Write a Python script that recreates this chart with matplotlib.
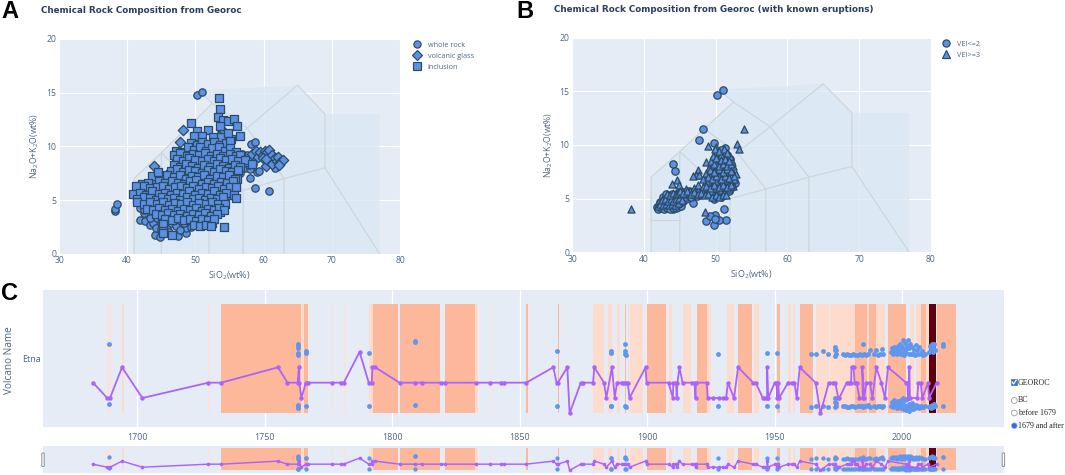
import matplotlib
matplotlib.use("Agg")
import matplotlib.pyplot as plt
from matplotlib.lines import Line2D
from matplotlib.patches import FancyBboxPatch, Rectangle, Circle

W, H = 1065, 475
plt.rcParams['font.family'] = ['Open Sans', 'DejaVu Sans']
plt.rcParams['mathtext.default'] = 'regular'

# ---------- TAS diagram ----------
tas_outline_x = [41, 41, 45, 48.4, 52.5, 51, 65, 69, 77, 77, 41]
tas_outline_y = [0, 7, 9.4, 11.5, 14, 15.2, 15.7, 13, 13, 0, 0]
tas_lines = [
    ([41, 41, 45, 48.4, 52.5, 57.6, 63, 63], [0, 7, 9.4, 11.5, 14, 11.7, 7, 0]),
    ([50.6, 52.5], [15.1, 14]),
    ([41, 45], [3, 3]),
    ([45, 45, 52, 52], [0, 9.4, 5, 0]),
    ([48.4, 53, 57, 57], [11.5, 9.3, 5.9, 0]),
    ([53, 57.6, 65, 69, 69, 77], [9.3, 11.7, 15.7, 13, 8, 0]),
    ([52, 57, 63, 69], [5, 5.9, 7, 8]),
]

# ---------- Panel A ----------
incl_x = [53.5, 53.6, 53.3, 54.1, 54.8, 55.7, 56.1, 53.6, 49.4, 50.2, 51.8, 56.5, 55.2, 51.0, 49.8, 52.6, 53.7, 54.8,
          49.3, 50.2, 51.0, 51.9, 52.8, 53.6, 54.5, 55.0,
          47.2, 48.0, 48.9, 49.8, 50.7, 51.6, 52.5, 53.4, 54.3, 55.1, 56.0,
          46.9, 47.8, 48.7, 49.6, 50.5, 51.4, 52.3, 53.2, 54.1, 55.0, 55.9, 56.6,
          47.3, 48.2, 49.1, 50.0, 50.9, 51.8, 52.7, 53.6, 54.5, 55.4, 56.3, 57.3,
          46.8, 47.7, 48.6, 49.5, 50.4, 51.3, 52.2, 53.1, 54.0, 54.9, 55.8, 56.6, 58.3,
          46.4, 47.3, 48.2, 49.1, 50.0, 50.9, 51.8, 52.7, 53.6, 54.5, 55.4, 56.2,
          43.6, 44.5, 45.9, 46.8, 47.7, 48.6, 49.5, 50.4, 51.3, 52.2, 53.1, 54.0, 54.9, 55.8,
          42.2, 43.1, 44.7, 45.6, 46.5, 47.4, 48.3, 49.2, 50.1, 51.0, 51.9, 52.8, 53.7, 54.6, 55.5,
          41.3, 42.4, 43.4, 44.3, 45.2, 46.1, 47.0, 47.9, 48.8, 49.7, 50.6, 51.5, 52.4, 53.3, 54.2, 55.0, 55.9,
          40.9, 41.9, 42.8, 43.7, 44.6, 45.5, 46.4, 47.3, 48.2, 49.1, 50.0, 50.9, 51.8, 52.7, 53.6, 54.5, 55.6,
          41.5, 42.4, 43.3, 44.2, 45.1, 46.0, 46.9, 47.8, 48.7, 49.6, 50.5, 51.4, 52.3, 53.2, 54.1, 56.0,
          41.4, 42.5, 43.4, 44.3, 45.2, 46.1, 47.0, 47.9, 48.8, 49.7, 50.6, 51.5, 52.4, 53.3, 54.3,
          42.9, 43.8, 44.7, 45.6, 46.5, 47.4, 48.3, 49.2, 50.1, 51.0, 51.9, 52.8, 53.5, 54.2,
          44.2, 45.1, 46.0, 46.9, 47.8, 48.7, 49.6, 50.5, 51.4, 52.3, 53.1,
          45.6, 46.5, 47.4, 48.3, 49.2, 50.1, 51.0, 51.9, 52.7,
          45.2, 49.8, 50.7, 51.6, 52.3, 54.2,
          45.2, 45.3, 46.5]
incl_y = [14.5, 13.45, 12.7, 12.5, 12.4, 12.55, 11.9, 11.9, 12.2, 11.4, 11.5, 11.0, 10.65, 11.0, 11.0, 10.9, 10.9, 11.2,
          10.3, 10.1, 10.4, 10.2, 10.4, 10.1, 10.3, 10.5,
          9.6, 9.5, 9.9, 9.7, 9.9, 9.6, 9.8, 9.9, 9.6, 9.8, 9.5,
          9.2, 9.4, 9.1, 9.3, 9.2, 9.4, 9.1, 9.3, 9.1, 9.3, 9.1, 9.2,
          8.8, 8.6, 8.9, 8.7, 8.6, 8.8, 8.6, 8.9, 8.7, 8.8, 8.6, 8.7,
          8.3, 8.1, 8.4, 8.2, 8.0, 8.3, 8.1, 8.4, 8.2, 8.0, 8.3, 8.1, 8.4,
          7.7, 7.9, 7.6, 7.8, 7.7, 7.5, 7.8, 7.6, 7.9, 7.7, 7.6, 7.8,
          7.2, 7.6, 7.3, 7.1, 7.3, 7.0, 7.2, 7.1, 7.3, 7.0, 7.2, 7.1, 7.3, 7.0,
          6.5, 6.6, 6.8, 6.6, 6.8, 6.6, 6.5, 6.8, 6.9, 6.5, 6.7, 6.5, 6.7, 6.6, 6.8,
          6.3, 6.3, 6.1, 6.2, 6.3, 6.0, 6.2, 6.3, 6.1, 6.3, 6.0, 6.2, 6.1, 6.3, 6.0, 6.2, 6.2,
          5.6, 5.7, 5.5, 5.8, 5.6, 5.7, 5.5, 5.7, 5.6, 5.8, 5.5, 5.7, 5.6, 5.8, 5.5, 5.7, 5.5,
          5.1, 5.3, 5.2, 5.0, 5.3, 5.1, 5.2, 5.0, 5.3, 5.1, 5.2, 5.0, 5.2, 5.1, 5.3, 5.15,
          4.85, 4.6, 4.8, 4.6, 4.8, 4.5, 4.7, 4.6, 4.8, 4.5, 4.7, 4.6, 4.8, 4.6, 4.6,
          4.2, 4.1, 4.3, 4.1, 4.2, 4.0, 4.2, 4.1, 4.3, 4.0, 4.2, 4.1, 4.3, 4.1,
          3.7, 3.6, 3.8, 3.6, 3.7, 3.5, 3.7, 3.6, 3.8, 3.5, 3.7,
          3.2, 3.1, 3.3, 3.1, 3.2, 3.0, 3.2, 3.1, 3.2,
          2.8, 2.7, 2.6, 2.7, 2.6, 2.5,
          2.1, 1.95, 1.75]
incl_mid_x = [47.6, 48.5, 49.4, 50.3, 51.2, 52.1, 53.0, 53.9, 54.8, 55.6,
              47.7, 48.6, 49.5, 50.4, 51.3, 52.2, 53.1, 54.0, 54.9, 55.8, 56.7,
              47.2, 48.1, 49.0, 49.9, 50.8, 51.7, 52.6, 53.5, 54.4, 55.3, 56.2, 57.2,
              47.0, 47.9, 48.8, 49.7, 50.6, 51.5, 52.4, 53.3, 54.2, 55.1, 56.0,
              46.3, 47.2, 48.1, 49.0, 49.9, 50.8, 51.7, 52.6, 53.5, 54.4, 55.3,
              45.2, 46.2, 47.1, 48.0, 48.9, 49.8, 50.7, 51.6, 52.5, 53.4, 54.3, 55.2, 56.1,
              44.2, 45.1, 46.0, 46.9, 47.8, 48.7, 49.6, 50.5, 51.4, 52.3, 53.2, 54.1, 55.0,
              41.9, 42.8, 43.8, 44.7, 45.6, 46.5, 47.4, 48.3, 49.2, 50.1, 51.0, 51.9, 52.8, 53.7, 54.6, 55.5,
              42.0, 42.9, 43.8, 44.7, 45.6, 46.5, 47.4, 48.3, 49.2, 50.1, 51.0, 51.9, 52.8, 53.7, 54.6,
              42.9, 43.8, 44.7, 45.6, 46.5, 47.4, 48.3, 49.2, 50.1, 51.0, 51.9, 52.8, 53.7,
              43.3, 44.2, 45.1, 46.0, 46.9, 47.8, 48.7, 49.6, 50.5, 51.4, 52.3, 53.2,
              44.7, 45.6, 46.5, 47.4, 48.3, 49.2, 50.1, 51.0, 51.9, 52.7, 53.6,
              45.1, 46.0, 46.9, 47.8, 48.7, 49.6, 50.5, 51.4, 52.3,
              50.0, 50.9, 51.7, 52.5]
incl_mid_y = [9.5, 9.4, 9.55, 9.45, 9.5, 9.4, 9.55, 9.45, 9.5, 9.4,
              8.95, 9.05, 8.9, 9.0, 9.05, 8.9, 9.0, 8.95, 9.05, 8.9, 9.0,
              8.5, 8.45, 8.55, 8.4, 8.5, 8.55, 8.4, 8.5, 8.45, 8.55, 8.4, 8.5,
              8.0, 7.9, 8.05, 7.95, 7.9, 8.05, 7.95, 8.0, 7.9, 8.05, 7.95,
              7.45, 7.4, 7.5, 7.4, 7.45, 7.5, 7.4, 7.45, 7.5, 7.4, 7.45,
              7.0, 6.95, 6.9, 7.0, 6.95, 6.9, 7.0, 6.95, 6.9, 7.0, 6.95, 6.9, 7.0,
              6.5, 6.45, 6.4, 6.5, 6.4, 6.45, 6.5, 6.4, 6.45, 6.5, 6.4, 6.45, 6.5,
              6.0, 5.95, 5.9, 6.0, 5.95, 5.9, 6.0, 5.95, 5.9, 6.0, 5.95, 5.9, 6.0, 5.95, 5.9, 6.0,
              5.4, 5.35, 5.45, 5.4, 5.35, 5.45, 5.4, 5.35, 5.45, 5.4, 5.35, 5.45, 5.4, 5.35, 5.45,
              4.9, 4.95, 4.9, 4.95, 4.9, 4.85, 4.95, 4.9, 4.85, 4.95, 4.9, 4.85, 4.95,
              4.45, 4.4, 4.45, 4.4, 4.45, 4.4, 4.45, 4.4, 4.45, 4.4, 4.45, 4.4,
              3.9, 3.95, 3.9, 3.95, 3.9, 3.95, 3.9, 3.95, 3.9, 3.95, 3.9,
              3.4, 3.45, 3.4, 3.45, 3.4, 3.45, 3.4, 3.45, 3.4,
              2.95, 2.9, 2.95, 2.9]
rock_x = [38.2, 38.2, 38.5, 50.2, 51.0, 58.1, 58.8, 58.8, 60.8, 58.0, 59.0, 58.4, 61.6, 41.9, 42.6, 43.3, 43.8, 44.4, 44.1, 44.8,
          45.3, 45.8, 46.4, 47.1, 47.4, 47.9, 48.6, 48.6, 49.1, 44.5, 42.4, 41.9, 42.4, 45.0, 43.4, 44.9, 55.7, 56.6, 56.3, 56.8,
          57.2, 58.0, 58.3, 57.6, 56.0, 56.9, 57.8, 59.3, 46.9, 47.8, 48.4, 49.3, 44.2, 46.2, 45.0]
rock_y = [4.0, 4.15, 4.65, 14.75, 15.1, 10.2, 10.45, 6.1, 5.8, 7.05, 7.6, 8.4, 7.95, 3.15, 3.0, 2.7, 2.9, 3.3, 1.75, 1.6,
          1.9, 2.4, 2.9, 2.6, 1.65, 3.0, 1.9, 2.4, 3.1, 3.9, 3.8, 4.3, 4.1, 4.3, 3.3, 2.8, 8.0, 7.5, 8.9, 9.3,
          8.0, 7.9, 8.9, 9.2, 7.0, 8.6, 8.3, 7.7, 3.1, 2.2, 2.9, 2.5, 2.4, 2.0, 2.3]
glass_x = [44.0, 48.2, 47.7, 53.9, 53.4, 58.3, 58.9, 59.2, 59.4, 59.9, 60.2, 60.5, 60.5, 60.8, 60.3, 60.9, 61.2, 61.3, 61.6, 61.9, 62.1, 62.4, 62.9, 62.2, 59.9, 60.4]
glass_y = [8.2, 11.5, 10.45, 11.5, 11.0, 9.3, 9.6, 9.0, 9.45, 9.2, 9.6, 9.0, 9.45, 9.65, 8.2, 8.5, 9.2, 8.4, 8.9, 8.6, 9.0, 8.5, 8.75, 8.3, 8.9, 8.8]

# ---------- Panel B ----------
low_x = [50.2, 51.0, 48.2, 47.7, 44.0, 44.3, 46.9, 44.1, 51.2, 51.4, 49.7, 48.7, 49.9, 49.2, 50.4, 49.9, 49.8, 51.3, 49.8, 52.7,
         41.8, 42.1, 42.5, 42.9, 43.3, 43.7, 44.1, 44.5, 44.9, 42.2, 42.6, 43.0, 43.4, 43.8, 44.2, 44.6, 45.0, 45.4, 42.7, 43.1, 43.5,
         43.9, 44.3, 44.7, 45.1, 45.5, 45.9, 46.3, 46.7, 47.2, 47.7, 48.3, 48.9, 49.5, 50.1, 50.7, 51.3, 51.9, 52.3,
         48.6, 49.2, 49.8, 50.4, 51.0, 51.6, 52.2, 48.9, 49.5, 50.1, 50.7, 51.3, 51.9, 52.4, 49.4, 50.0, 50.6, 51.2, 51.8, 52.2,
         49.7, 50.3, 50.9, 51.5, 52.0, 50.2, 50.8, 51.4,
         42.0, 42.4, 42.8, 43.2, 43.6, 44.0, 44.4, 44.8, 45.2, 42.3, 42.7, 43.1, 43.5, 43.9, 44.3, 44.7, 45.1, 45.5, 45.9,
         43.0, 43.4, 43.8, 44.2, 44.6, 45.0, 45.4, 45.8, 46.2, 46.6, 47.0, 47.4, 47.8]
low_y = [14.7, 15.1, 11.5, 10.45, 8.2, 7.6, 4.6, 4.05, 4.05, 3.05, 2.55, 2.95, 3.5, 3.4, 3.0, 3.1, 10.2, 9.7, 5.0, 6.45,
         4.2, 4.4, 4.25, 4.3, 4.25, 4.35, 4.3, 4.4, 4.5, 4.7, 4.8, 4.65, 4.8, 4.7, 4.85, 4.7, 4.9, 5.0, 5.2, 5.4, 5.1,
         5.4, 5.2, 5.5, 5.3, 5.6, 5.4, 5.7, 5.5, 5.8, 5.6, 5.4, 5.7, 5.3, 5.6, 5.2, 5.5, 5.7, 6.1,
         6.3, 6.6, 6.3, 6.7, 6.4, 6.7, 6.5, 7.1, 7.4, 7.0, 7.3, 7.0, 7.3, 7.1, 7.9, 8.2, 7.8, 8.1, 7.9, 8.2,
         8.7, 9.0, 8.6, 8.9, 8.7, 9.3, 9.5, 9.2,
         4.05, 4.1, 4.0, 4.15, 4.05, 4.1, 4.15, 4.2, 4.35, 4.55, 4.6, 4.5, 4.6, 4.55, 4.6, 4.5, 4.65, 4.75, 5.0,
         5.0, 5.0, 5.1, 5.05, 5.1, 5.05, 5.2, 5.15, 5.3, 5.2, 5.35, 5.25, 5.3]
high_x = [38.2, 54.0, 53.0, 53.3, 49.0, 50.1, 47.5, 47.2, 46.8, 47.7, 44.6, 43.9, 44.9, 48.5,
          41.9, 42.3, 42.7, 43.1, 43.5, 43.9, 44.3, 44.7, 42.5, 42.9, 43.3, 43.7, 44.1, 44.5, 44.9, 45.3, 43.2, 43.6, 44.0, 44.4, 44.8, 45.2, 45.6, 46.0,
          45.8, 46.4, 47.0, 47.6, 48.2, 48.8, 49.4, 50.0, 50.6, 51.2, 51.8, 47.6, 48.3, 48.9, 49.5, 50.1, 50.7, 51.3, 51.9, 52.4,
          48.3, 48.9, 49.5, 50.1, 50.7, 51.3, 51.9, 52.5, 48.6, 49.2, 49.8, 50.4, 51.0, 51.6, 52.2, 52.8, 49.1, 49.7, 50.3, 50.9, 51.5, 52.1, 52.4,
          48.7, 49.4, 50.0, 50.6, 51.2, 51.8, 52.3, 49.6, 50.2, 50.8, 51.4, 52.0, 49.9, 50.5, 51.1, 51.6,
          48.6, 49.2, 49.8, 50.4, 51.0, 51.6, 52.2, 48.9, 49.5, 50.1, 50.7, 51.3, 51.9, 52.5, 49.2, 49.8, 50.4, 51.0, 51.6, 52.2,
          49.8, 50.4, 51.0, 51.6, 52.2, 50.1, 50.7, 51.3, 51.9,
          45.0, 45.5, 46.0, 46.5, 47.0, 47.5, 48.0, 48.5, 49.0, 49.5, 50.0, 50.5, 51.0, 51.5]
high_y = [4.05, 11.5, 10.1, 9.6, 9.9, 9.8, 7.7, 7.2, 7.1, 7.2, 6.7, 6.4, 6.3, 3.8,
          4.3, 4.5, 4.4, 4.5, 4.4, 4.5, 4.4, 4.6, 4.9, 5.0, 4.8, 5.0, 4.8, 5.0, 5.1, 4.9, 5.4, 5.3, 5.5, 5.4, 5.5, 5.4, 5.6, 5.5,
          5.9, 5.7, 6.0, 5.8, 5.6, 5.9, 5.7, 5.5, 5.8, 5.6, 5.9, 6.3, 6.1, 6.4, 6.2, 6.0, 6.3, 6.1, 6.3, 6.2,
          6.8, 6.6, 6.9, 6.6, 6.9, 6.7, 6.9, 6.8, 7.4, 7.2, 7.5, 7.2, 7.5, 7.3, 7.6, 7.3, 7.9, 7.7, 8.0, 7.7, 8.0, 7.8, 8.0,
          8.4, 8.5, 8.3, 8.6, 8.3, 8.5, 8.4, 9.0, 8.8, 9.1, 8.8, 9.0, 9.6, 9.4, 9.6, 9.3,
          6.2, 6.0, 6.3, 6.1, 6.3, 6.1, 6.3, 7.0, 6.8, 7.1, 6.8, 7.1, 6.9, 7.1, 7.7, 7.5, 7.8, 7.5, 7.8, 7.6,
          8.2, 8.0, 8.2, 8.0, 8.2, 8.8, 8.6, 8.7, 8.5,
          5.7, 5.5, 5.7, 5.4, 5.6, 5.4, 5.5, 5.3, 5.4, 5.2, 5.3, 5.2, 5.3, 5.3]

# ---------- Panel C ----------
band_start = [1688.2, 1693.9, 1727.6, 1733, 1755.3, 1764.2, 1765.4, 1776.2, 1781, 1790.8, 1792.4, 1802.9, 1820.9, 1832.4, 1838.3,
              1852.3, 1865, 1878.8, 1884.5, 1888.3, 1891.2, 1892.4, 1893.3, 1900, 1908.6, 1914, 1919.4, 1923.4, 1931.3, 1935.7,
              1942, 1951, 1955.3, 1957.4, 1960, 1966.3, 1971.7, 1981, 1981.6, 1986.3, 1987.2, 1989.8, 1994.5, 2003, 2005.5, 2007.3, 2009.4, 2010.6, 2013.3, 2013.7]
band_end = [1689.5, 1694.9, 1728.6, 1755.1, 1764.2, 1765.4, 1767, 1776.6, 1781.7, 1792.4, 1802.2, 1818.8, 1832.4, 1833.8, 1838.9,
            1853.1, 1865.4, 1883, 1886.2, 1889.4, 1891.8, 1892.9, 1898.4, 1907.6, 1909.7, 1917.3, 1923.4, 1925, 1933.9, 1941,
            1944, 1952, 1956.3, 1958.2, 1965, 1971.4, 1981, 1981.6, 1986.1, 1987, 1989.8, 1993.2, 2001.4, 2004.9, 2007.3, 2009.4, 2010.6, 2013.3, 2013.7, 2021]
band_level = [0, 1, 0, 2, 2, 1, 2, 0, 0, 1, 2, 2, 2, 1, 0,
              2, 2, 1, 1, 1, 2, 1, 1, 2, 1, 1, 2, 1, 1, 2,
              1, 2, 1, 1, 2, 1, 1, 1, 2, 1, 2, 1, 2, 1, 1, 2, 1, 3, 0, 2]

line_year = [1682.6, 1688.2, 1689.3, 1694, 1702, 1727.9, 1733, 1755.2, 1758.9, 1762.9, 1763.4, 1763.5, 1764.4, 1766.1, 1767, 1776.4, 1780, 1781,
             1787.2, 1790.8, 1792, 1792.2, 1793.3, 1802.9, 1809, 1811.6, 1819.1, 1820.8, 1832.7, 1838.3, 1842.5, 1843.7, 1852.6, 1863.2, 1864.5, 1865,
             1868.7, 1869.6, 1874, 1874.8, 1878.8, 1879.3, 1883.1, 1884, 1886.2, 1887.3, 1888.2, 1890.1, 1891, 1891.6, 1892.4, 1893.1, 1899.4, 1899.8,
             1908.4, 1910.1, 1910.3, 1911.4, 1911.6, 1911.9, 1912.7, 1913.9, 1917.5, 1918.6, 1919, 1919.2, 1923.4, 1923.8, 1926, 1928.4, 1929.6, 1931,
             1931.7, 1934.1, 1935.7, 1941.6, 1942.6, 1945.4, 1946.4, 1947.1, 1947.1, 1947.5, 1950.1, 1950.8, 1951, 1951.3, 1951.8, 1955.3, 1956.9, 1957.8,
             1958.7, 1959.9, 1966.1, 1968, 1971.3, 1973.1, 1973.8, 1975, 1975.4, 1978.3, 1979.3, 1980, 1980.2, 1981, 1981.4, 1982.2, 1983.3, 1984.6,
             1984.4, 1985.1, 1986, 1987.4, 1988.4, 1989.9, 1991.9, 1993.3, 1994.5, 2001.6, 2002.1, 2002.4, 2002.9, 2003.1, 2006, 2006.4, 2007.3, 2008, 2010.2, 2010.6, 2013.6]
line_level = [2, 1, 1, 3, 1, 2, 2, 3, 2, 2, 3, 2, 1, 2, 2, 2, 2, 2,
              4, 2, 2, 3, 3, 2, 2, 2, 2, 2, 2, 2, 2, 2, 2, 3, 2, 2,
              3, 0, 2, 2, 2, 3, 2, 1, 3, 1, 2, 2, 2, 2, 2, 1, 3, 2,
              2, 1, 2, 2, 1, 2, 3, 2, 2, 2, 1, 2, 2, 1, 1, 1, 1, 1,
              2, 1, 3, 2, 2, 1, 1, 1, 3, 1, 2, 2, 1, 2, 1, 2, 2, 2,
              1, 3, 2, 0, 2, 2, 2, 1, 1, 2, 2, 2, 3, 3, 2, 2, 1, 1,
              3, 1, 2, 2, 1, 3, 2, 1, 3, 2, 2, 1, 3, 1, 1, 2, 2, 1, 2, 1, 2]

up_year = [1689, 1762.9, 1762.9, 1762.9, 1762.9, 1763.1, 1766, 1766, 1791, 1809, 1809, 1864.8, 1885.8, 1885.8, 1891.5, 1891.5, 1891.5, 1891.6, 1928, 1947, 1950.9,
           1964.4, 1966.1, 1969, 1971, 1973.6, 1973.9, 1974, 1973.7, 1974.2, 1976.8, 1977.6, 1978.4, 1979.2, 1980, 1980.8, 1981.5, 1982.8, 1983.6, 1984.4, 1984.6,
           1985.2, 1986, 1986.8, 1987.6, 1989.2, 1989.9, 1990.6, 1991.4, 1992.2, 1992.6,
           1995.6, 1995.9, 1996.3, 1996.6, 1997, 1997.3, 1997.7, 1998, 1998.3, 1998.6, 1999, 1999.3, 1999.5, 1999.8, 2000.1, 2000.4, 2000.7, 2000.9, 2001.2, 2001.4,
           2001.7, 2002, 2002.3, 2002.6, 2002.8, 2003, 2003.4, 2003.8, 2004.2, 2004.7, 2005, 2005.4, 2005.8, 2006.3, 2006.8, 2007.3, 2007.8, 2008.3, 2009, 2010.7, 2011, 2011.3, 2011.7, 2012, 2012.3, 2012.6, 2013, 2016.1, 2016.2]
up_y = [4.5, 4.55, 4.4, 4.25, 3.95, 3.8, 4.05, 3.95, 3.92, 4.72, 4.65, 4.07, 4.05, 3.95, 4.5, 4.05, 3.9, 3.8, 3.9, 3.92, 3.92,
        3.85, 3.9, 4.05, 3.85, 4.3, 4.1, 3.9, 3.75, 4.15, 3.85, 3.8, 3.88, 3.82, 3.78, 3.85, 3.8, 3.82, 3.86, 3.8, 4.5,
        3.85, 3.8, 3.9, 4.15, 3.85, 4.15, 3.8, 3.9, 4.2, 3.85,
        4.0, 4.25, 3.9, 4.1, 4.35, 3.95, 4.2, 3.85, 4.4, 4.1, 3.95, 4.55, 4.2, 3.85, 4.3, 4.75, 4.05, 3.8, 4.6, 4.2,
        3.95, 4.4, 4.75, 3.85, 4.25, 4.55, 3.9, 4.3, 3.85, 4.1, 3.8, 4.45, 4.1, 3.85, 4.3, 3.9, 4.05, 3.8, 3.85, 4.0, 4.4, 4.2, 4.55, 4.0, 4.35, 4.5, 4.1, 4.5, 4.4]
lo_year = [1689, 1762.9, 1762.9, 1763.1, 1766, 1791, 1809, 1864.8, 1885.8, 1885.8, 1891.5, 1891.6, 1928, 1947, 1950.9,
           1964.4, 1966.1, 1969, 1971, 1973.6, 1973.9, 1974, 1973.7, 1974.2, 1976.8, 1977.6, 1978.4, 1979.2, 1980, 1980.8, 1981.5, 1982.8, 1983.6, 1984.4, 1984.6,
           1985.2, 1986, 1986.8, 1987.6, 1989.2, 1989.9, 1990.6, 1991.4, 1992.2, 1992.6,
           1995.6, 1995.9, 1996.3, 1996.6, 1997, 1997.3, 1997.7, 1998, 1998.3, 1998.6, 1999, 1999.3, 1999.5, 1999.8, 2000.1, 2000.4, 2000.7, 2000.9, 2001.2, 2001.4,
           2001.7, 2002, 2002.3, 2002.6, 2002.8, 2003, 2003.4, 2003.8, 2004.2, 2004.7, 2005, 2005.4, 2005.8, 2006.3, 2006.8, 2007.3, 2007.8, 2008.3, 2009, 2010.7, 2011, 2011.3, 2011.7, 2012, 2012.3, 2012.6, 2013, 2016.1]
lo_y = [0.6, 0.55, 0.35, 0.45, 0.45, 0.45, 0.55, 0.5, 0.5, 0.45, 0.5, 0.4, 0.45, 0.48, 0.48,
        0.42, 0.48, 0.45, 0.42, 1.0, 0.75, 0.5, 0.4, 0.65, 0.5, 0.45, 0.42, 0.4, 0.48, 0.45, 0.42, 0.5, 0.45, 0.48, 0.42,
        0.5, 0.46, 0.55, 0.42, 0.48, 0.4, 0.5, 0.46, 0.42, 0.5,
        0.5, 0.75, 0.4, 0.6, 0.85, 0.45, 0.7, 0.35, 0.55, 0.8, 0.4, 0.65, 0.9, 0.35, 0.6, 1.0, 0.3, 0.55, 0.85, 0.2,
        0.45, 0.95, 0.3, 0.6, 0.15, 0.5, 0.35, 0.65, 0.3, 0.5, 0.35, 0.55, 0.4, 0.5, 0.38, 0.45, 0.42, 0.4, 0.45, 0.42, 0.5, 0.38, 0.55, 0.42, 0.48, 0.6, 0.45, 0.5]

x_ticks_c = [1700, 1750, 1800, 1850, 1900, 1950, 2000]
tas_x_ticks = [30, 40, 50, 60, 70, 80]
tas_y_ticks = [0, 5, 10, 15, 20]

BG = '#e5ecf6'
TICK = '#506784'
TITLE = '#2a3f5f'
FILL = '#5b90e4'
EDGE = '#2b4a63'
PURPLE = '#ab63fa'
BLUE = '#5f97ee'
BAND_COLORS = ['#f8e3dd', '#fddccd', '#fdb89c', '#5c0010']

fig = plt.figure(figsize=(W / 100, H / 100), dpi=100, facecolor='white')


def px_axes(l, t, r, b):
    return fig.add_axes([l / W, 1 - b / H, (r - l) / W, (b - t) / H], facecolor=BG)


def tas_axes(l, t, r, b):
    ax = px_axes(l, t, r, b)
    ax.set_xlim(30, 80)
    ax.set_ylim(0, 20)
    for s in ax.spines.values():
        s.set_visible(False)
    ax.set_xticks(tas_x_ticks)
    ax.set_yticks(tas_y_ticks)
    ax.tick_params(length=0, labelsize=6.2, labelcolor=TICK, pad=2)
    ax.grid(True, color='white', lw=0.8)
    ax.set_axisbelow(True)
    ax.fill(tas_outline_x, tas_outline_y, color='#d9e7f3', alpha=0.75, lw=0, zorder=1.2)
    for lx, ly in tas_lines:
        ax.plot(lx, ly, color='#cfd5db', lw=0.85, zorder=1.5)
    ax.set_xlabel('SiO$_2$(wt%)', fontsize=6.5, color=TICK, labelpad=3)
    ax.set_ylabel('Na$_2$O+K$_2$O(wt%)', fontsize=6.2, color=TICK, labelpad=3.5)
    return ax


mk = dict(c=FILL, edgecolors=EDGE, linewidths=0.9, zorder=3)

axA = tas_axes(59, 39, 400, 253.7)
axA.scatter(rock_x, rock_y, s=28, marker='o', **mk)
axA.scatter(glass_x, glass_y, s=28, marker='D', **mk)
axA.scatter(incl_mid_x, incl_mid_y, s=28, marker='s', **mk)
axA.scatter(incl_x, incl_y, s=28, marker='s', **mk)

axB = tas_axes(572.3, 37.7, 930.7, 252.3)
axB.scatter(low_x, low_y, s=28, marker='o', **mk)
axB.scatter(high_x, high_y, s=26, marker='^', **mk)

lh = dict(color='none', markerfacecolor=FILL, markeredgecolor=EDGE, markeredgewidth=0.85, markersize=5.2)
axA.legend(handles=[Line2D([], [], marker='o', label='whole rock', **lh),
                    Line2D([], [], marker='D', label='volcanic glass', **{**lh, 'markersize': 4.6}),
                    Line2D([], [], marker='s', label='inclusion', **lh)],
           loc='upper left', bbox_to_anchor=(1.02, 1.0), frameon=False, fontsize=5.2, labelcolor=TICK,
           labelspacing=0.55, handletextpad=0.6, borderpad=0.3, handlelength=1.9, borderaxespad=0.1)
axB.legend(handles=[Line2D([], [], marker='o', label='VEI<=2', **lh),
                    Line2D([], [], marker='^', label='VEI>=3', **lh)],
           loc='upper left', bbox_to_anchor=(1.015, 1.0), frameon=False, fontsize=5.2, labelcolor=TICK,
           labelspacing=0.55, handletextpad=0.6, borderpad=0.3, handlelength=1.9, borderaxespad=0.1)


def timeline(ax, main):
    ax.set_xlim(1663, 2039.9)
    ax.set_ylim(-0.89, 8.04)
    for s in ax.spines.values():
        s.set_visible(False)
    ax.bar(band_start, 7.13, width=[e - s for s, e in zip(band_start, band_end)], bottom=0, align='edge',
           color=[BAND_COLORS[i] for i in band_level], lw=0, zorder=2)
    ms = 3.5 if main else 3.1
    ax.plot(up_year, up_y, ls='none', marker='o', ms=ms, mfc=BLUE, mec=BLUE, mew=0, zorder=3)
    ax.plot(lo_year, lo_y, ls='none', marker='o', ms=ms, mfc=BLUE, mec=BLUE, mew=0, zorder=3)
    ax.plot(line_year, line_level, color=PURPLE, lw=1.3 if main else 1.05, marker='o', ms=3.2 if main else 2.6,
            mew=0, zorder=4, clip_on=True)


axC = px_axes(43, 290, 1003.7, 427)
timeline(axC, True)
axC.set_xticks(x_ticks_c)
axC.set_yticks([3.59])
axC.set_yticklabels(['Etna'])
axC.tick_params(length=0, labelsize=6.4, labelcolor=TICK, pad=1.5)
axC.tick_params(axis='x', pad=4)
axC.grid(True, axis='x', color='white', lw=0.9)
axC.set_axisbelow(True)

axS = px_axes(43, 445.7, 1003.7, 473)
timeline(axS, False)
axS.set_xticks([])
axS.set_yticks([])

# Full-figure overlay for titles, panel letters and the page controls
ov = fig.add_axes([0, 0, 1, 1], facecolor='none', zorder=10)
ov.set_xlim(0, W)
ov.set_ylim(H, 0)
ov.axis('off')

title_kw = dict(family='DejaVu Sans', fontweight='bold', fontsize=6.3, color=TITLE, va='center', ha='left')
ov.text(41, 10.3, 'Chemical Rock Composition from Georoc', **title_kw)
ov.text(554.5, 9.3, 'Chemical Rock Composition from Georoc (with known eruptions)', **title_kw)
letter_kw = dict(family='Liberation Sans', fontweight='bold', fontsize=17, color='black', va='center', ha='left')
ov.text(1.5, 11, 'A', **letter_kw)
ov.text(516.5, 11, 'B', **letter_kw)
ov.text(1.5, 294, 'C', **letter_kw)
ov.text(9.5, 360, 'Volcano Name', rotation=90, fontsize=7.2, color=TICK, va='center', ha='center')

for x0 in (41.8, 1002.2):
    ov.add_patch(FancyBboxPatch((x0, 453), 2.4, 13.5, boxstyle='round,pad=0,rounding_size=0.8',
                                fc='white', ec='#8a8f96', lw=0.7))

ov.add_patch(Rectangle((1011, 379), 6.2, 6.2, fc='#2f6fe0', ec='#2f6fe0', lw=0.5))
ov.plot([1012.1, 1013.5, 1016.2], [382, 384, 380.2], color='white', lw=0.9)
serif = dict(family='Liberation Serif', fontsize=5.7, color='#222222', va='center', ha='left')
ov.text(1018, 383, 'GEOROC', **serif)
for yy, lab, on in [(400.5, 'BC', False), (413, 'before 1679', False), (425.7, '1679 and after', True)]:
    if on:
        ov.add_patch(Circle((1014.3, yy), 2.9, fc='#2f6fe0', ec='#9fbcf0', lw=0.5))
    else:
        ov.add_patch(Circle((1014.3, yy), 2.9, fc='white', ec='#8a8a8a', lw=0.5))
    ov.text(1018, yy, lab, **serif)

fig.savefig('out.png', dpi=100)
